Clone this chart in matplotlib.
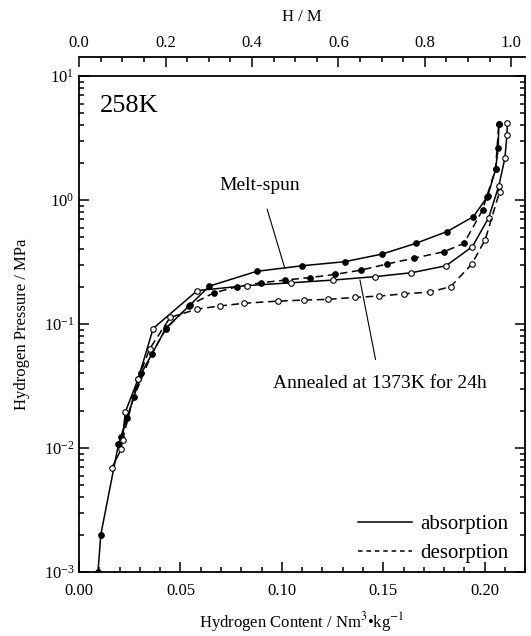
import matplotlib
matplotlib.use('Agg')
import matplotlib.pyplot as plt
from matplotlib.ticker import MultipleLocator, LogLocator, NullFormatter

plt.rcParams['font.family'] = ['Liberation Serif', 'DejaVu Serif']
plt.rcParams['mathtext.fontset'] = 'stix'

# Melt-spun (filled circles)
ms_abs_x = [0.0093, 0.0107, 0.0194, 0.0236, 0.0307, 0.0429, 0.0543, 0.0642, 0.0876, 0.110,
            0.131, 0.1496, 0.166, 0.1814, 0.1945, 0.2015, 0.2054, 0.2067, 0.207]
ms_abs_p = [0.001, 0.0020, 0.0107, 0.0174, 0.040, 0.093, 0.140, 0.202, 0.266, 0.295,
            0.318, 0.367, 0.447, 0.556, 0.735, 1.07, 1.77, 2.61, 4.10]
ms_des_x = [0.0208, 0.027, 0.0358, 0.0429, 0.0546, 0.0663, 0.078, 0.0897, 0.1015, 0.114,
            0.126, 0.139, 0.152, 0.165, 0.180, 0.1898, 0.199, 0.201, 0.2054, 0.207]
ms_des_p = [0.0123, 0.0257, 0.0575, 0.092, 0.142, 0.178, 0.200, 0.215, 0.226, 0.237,
            0.251, 0.272, 0.305, 0.339, 0.383, 0.447, 0.83, 1.06, 1.77, 4.10]

# Annealed at 1373K for 24h (open circles)
an_abs_x = [0.0161, 0.0208, 0.0228, 0.0291, 0.0365, 0.0583, 0.0827, 0.1045, 0.125, 0.146,
            0.1638, 0.181, 0.194, 0.202, 0.207, 0.210, 0.211, 0.2112]
an_abs_p = [0.0069, 0.0098, 0.0195, 0.036, 0.092, 0.186, 0.204, 0.215, 0.226, 0.241,
            0.259, 0.295, 0.421, 0.72, 1.30, 2.17, 3.34, 4.17]
an_des_x = [0.0214, 0.0291, 0.0348, 0.0449, 0.0583, 0.0697, 0.0814, 0.098, 0.111, 0.123,
            0.136, 0.148, 0.160, 0.173, 0.1832, 0.1936, 0.2003, 0.2074]
an_des_p = [0.0116, 0.036, 0.063, 0.113, 0.132, 0.140, 0.147, 0.153, 0.156, 0.158,
            0.164, 0.168, 0.175, 0.181, 0.200, 0.303, 0.479, 1.17]

XMAX = 0.22
HM_PER_CONTENT = 1.032 / 0.22

fig = plt.figure(figsize=(5.31, 6.36), dpi=100)
ax = fig.add_axes([0.149, 0.1006, 0.840, 0.7799])

mk = dict(marker='o', markersize=4, markeredgewidth=0.8, color='black', linewidth=1.1)
ax.plot(ms_abs_x, ms_abs_p, linestyle='-', markerfacecolor='black', **mk)
ax.plot(ms_des_x, ms_des_p, linestyle=(0, (5, 3)), markerfacecolor='black', **mk)
ax.plot(an_abs_x, an_abs_p, linestyle='-', markerfacecolor='white', **mk)
ax.plot(an_des_x, an_des_p, linestyle=(0, (5, 3)), markerfacecolor='white', **mk)

ax.set_yscale('log')
ax.set_xlim(0, XMAX)
ax.set_ylim(1e-3, 1e1)
ax.xaxis.set_major_locator(MultipleLocator(0.05))
ax.xaxis.set_minor_locator(MultipleLocator(0.01))
ax.xaxis.set_major_formatter(plt.FuncFormatter(lambda v, p: '{:.2f}'.format(v)))
ax.yaxis.set_major_locator(LogLocator(base=10, numticks=10))
ax.yaxis.set_minor_locator(LogLocator(base=10, subs=range(2, 10), numticks=20))
ax.yaxis.set_minor_formatter(NullFormatter())
ax.tick_params(which='both', direction='in', top=True, right=True, labelsize=12, width=1.1)
ax.tick_params(which='major', length=7)
ax.tick_params(which='minor', length=3.5)
ax.tick_params(axis='x', pad=8)
for s in ax.spines.values():
    s.set_linewidth(1.3)

ax.set_xlabel('Hydrogen Content / Nm$^3$\u2022kg$^{-1}$', fontsize=12, labelpad=8)
ax.set_ylabel('Hydrogen Pressure / MPa', fontsize=12, labelpad=10)

# top H/M axis, detached above the frame
ax2 = ax.twiny()
ax2.set_xlim(0, XMAX * HM_PER_CONTENT)
ax2.spines['top'].set_position(('outward', 14))
for k in ['left', 'right', 'bottom']:
    ax2.spines[k].set_visible(False)
ax2.spines['top'].set_linewidth(1.3)
ax2.xaxis.set_major_locator(MultipleLocator(0.2))
ax2.xaxis.set_minor_locator(MultipleLocator(0.05))
ax2.xaxis.set_major_formatter(plt.FuncFormatter(lambda v, p: '{:.1f}'.format(v)))
ax2.tick_params(which='both', direction='in', labelsize=12, width=1.1, pad=4)
ax2.tick_params(which='major', length=7)
ax2.tick_params(which='minor', length=3.5)
ax2.set_xlabel('H / M', fontsize=12, labelpad=10)

ax.text(0.047, 0.962, '258K', transform=ax.transAxes, fontsize=19, va='top', ha='left')
ax.annotate('Melt-spun', xy=(0.1015, 0.28), xytext=(0.0893, 1.3),
            fontsize=14, ha='center', va='center',
            arrowprops=dict(arrowstyle='-', color='black', lw=0.8, shrinkA=9, shrinkB=0))
ax.annotate('Annealed at 1373K for 24h', xy=(0.1385, 0.227), xytext=(0.1485, 0.0334),
            fontsize=14, ha='center', va='center',
            arrowprops=dict(arrowstyle='-', color='black', lw=0.8, shrinkA=9, shrinkB=0))

h1, = ax.plot([], [], color='black', linestyle='-', linewidth=1.1)
h2, = ax.plot([], [], color='black', linestyle=(0, (3, 2.5)), linewidth=1.1)
ax.legend([h1, h2], ['absorption', 'desorption'], loc='lower right', frameon=False,
          fontsize=15, handlelength=2.6, handletextpad=0.4, labelspacing=0.45,
          borderaxespad=0.4, bbox_to_anchor=(1.0, -0.015))

fig.savefig('out.png', dpi=100)
